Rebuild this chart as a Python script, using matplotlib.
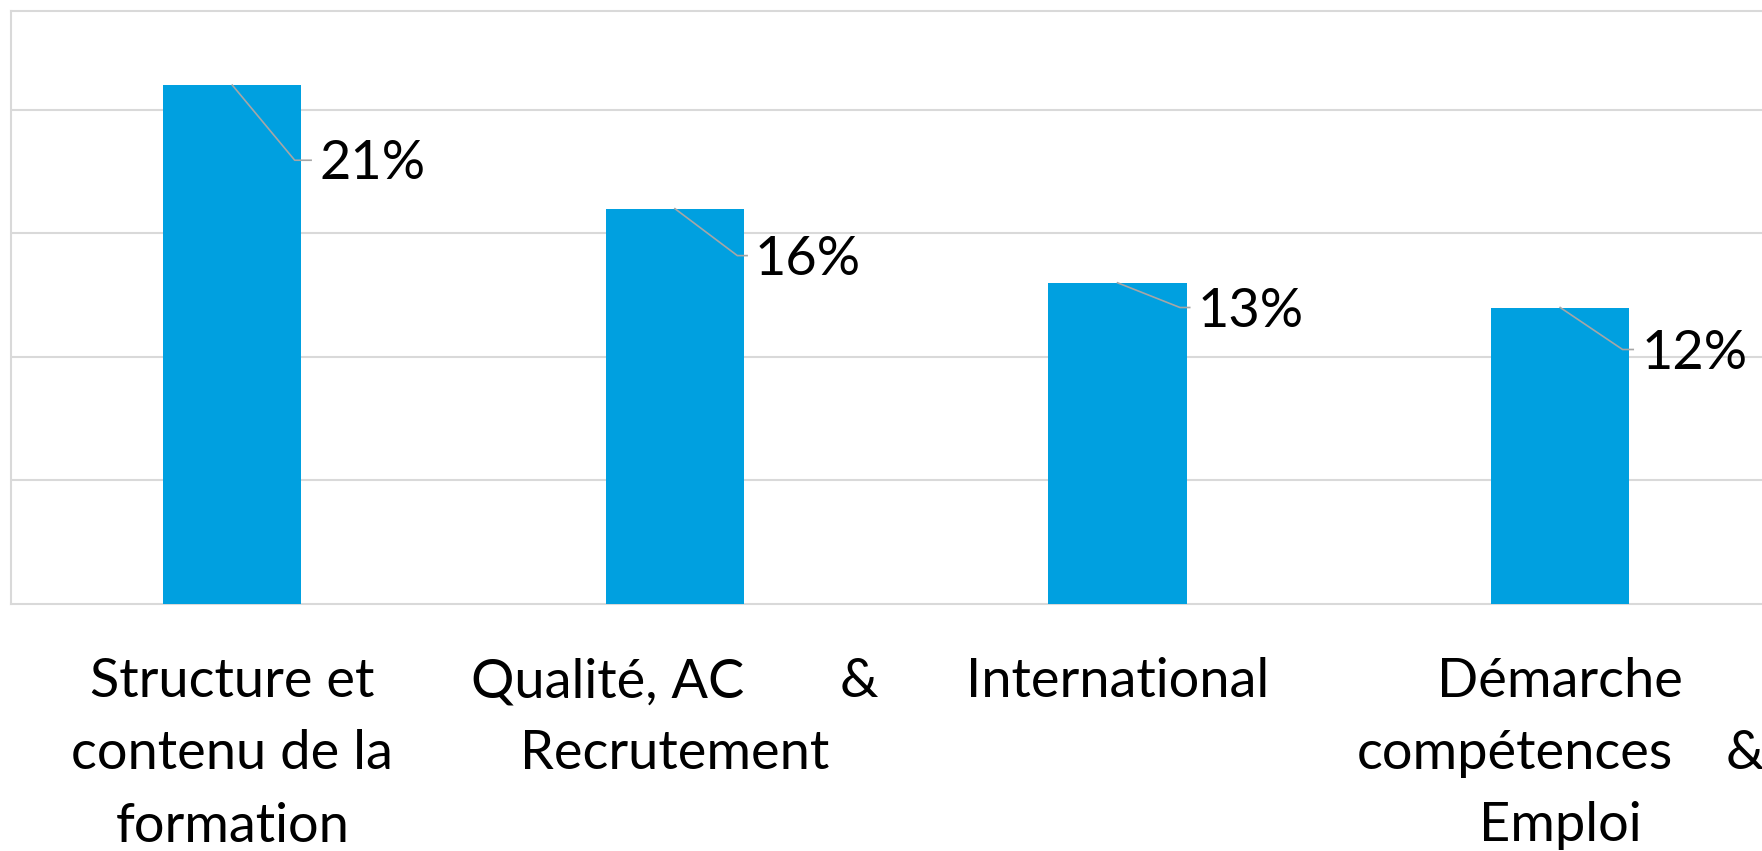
import matplotlib.pyplot as plt

# data
categories = [
    ["Structure et", "contenu de la", "formation"],
    [("Qualité, AC", "&"), "Recrutement"],
    ["International"],
    ["Démarche", ("compétences", "&"), "Emploi"],
]
values = [21, 16, 13, 12]
value_labels = ["21%", "16%", "13%", "12%"]
label_drop = [3.04, 1.9, 1.0, 1.7]      # how far each data label was dragged down
label_gap = [0.04, 0.025, 0.025, 0.027]  # and how far right of the bar

BAR = "#00A0E0"
GRID = "#D9D9D9"
LEADER = "#A6A6A6"
FONT = "Lato"
FS = 39

fig = plt.figure(figsize=(17.62, 8.51), dpi=100)
ax = fig.add_axes([11 / 1762, 247 / 851, 1 - 11 / 1762, 593 / 851])

x = list(range(len(values)))
half = 0.156
ax.bar(x, values, width=2 * half, color=BAR, zorder=3)

ax.set_xlim(-0.5, 3.456)
ax.set_ylim(0, 24)
ax.set_yticks([5, 10, 15, 20])
ax.yaxis.grid(True, color=GRID, linewidth=1.5, zorder=0)
ax.tick_params(left=False, bottom=False, labelleft=False, labelbottom=False)
for side in ["top", "left", "bottom"]:
    ax.spines[side].set_color(GRID)
    ax.spines[side].set_linewidth(1.5)
ax.spines["right"].set_visible(False)

# data labels with leader lines
for xi, v, lab, d, g in zip(x, values, value_labels, label_drop, label_gap):
    ly = v - d
    ax.plot([xi, xi + half - 0.015, xi + half + g - 0.018], [v, ly, ly],
            color=LEADER, linewidth=1.2, zorder=4, clip_on=False)
    ax.text(xi + half + g, ly - 0.77, lab, fontsize=FS, family=FONT,
            ha="left", va="baseline", color="black", zorder=5)

# category labels (Excel-style, "&" lines justified)
first_drop = 67
line_step = 52
half_box = 0.46
for xi, lines in zip(x, categories):
    for k, line in enumerate(lines):
        off = -(first_drop + k * line_step)
        if isinstance(line, tuple):
            left, right = line
            ax.annotate(left, xy=(xi - half_box, 0), xycoords=("data", "axes fraction"),
                        xytext=(0, off), textcoords="offset points",
                        ha="left", va="baseline", fontsize=FS, family=FONT,
                        annotation_clip=False)
            ax.annotate(right, xy=(xi + half_box, 0), xycoords=("data", "axes fraction"),
                        xytext=(0, off), textcoords="offset points",
                        ha="right", va="baseline", fontsize=FS, family=FONT,
                        annotation_clip=False)
        else:
            ax.annotate(line, xy=(xi, 0), xycoords=("data", "axes fraction"),
                        xytext=(0, off), textcoords="offset points",
                        ha="center", va="baseline", fontsize=FS, family=FONT,
                        annotation_clip=False)

fig.savefig("out.png", dpi=100)
